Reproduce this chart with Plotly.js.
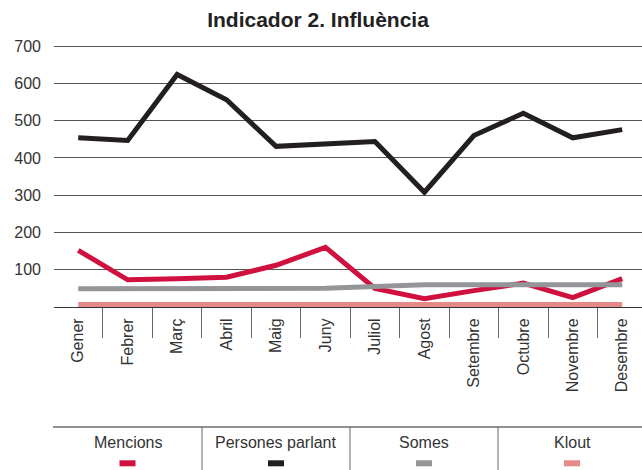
<!DOCTYPE html>
<html>
<head>
<meta charset="utf-8">
<script src="https://cdn.plot.ly/plotly-3.0.1.min.js"></script>
<style>html,body{margin:0;padding:0;background:#fff;}#chart{width:642px;height:470px;}</style>
</head>
<body>
<div id="chart"></div>
<script>
const months = ['Gener','Febrer','Març','Abril','Maig','Juny','Juliol','Agost','Setembre','Octubre','Novembre','Desembre'];
const mencions = [152, 73, 76, 80, 112, 160, 50, 22, 44, 64, 25, 76];
const persones = [454, 447, 624, 556, 431, 438, 444, 308, 460, 520, 454, 476];
const somes = [49, 49, 50, 50, 50, 50, 55, 60, 60, 60, 60, 60];
const klout = [7, 7, 7, 7, 7, 7, 7, 7, 7, 7, 7, 7];
const seriesNames = ['Mencions', 'Persones parlant', 'Somes', 'Klout'];
const seriesData = [mencions, persones, somes, klout];
const seriesColors = ['#d0103f', '#231f20', '#939598', '#e68a89'];
const yTicks = [100, 200, 300, 400, 500, 600, 700];

const W = 642, H = 470;
const M = {l: 54, r: 0, t: 45, b: 163};
const FONT = 'Liberation Sans, Arial, sans-serif';
// figure pixel -> paper coords
const pw = W - M.l - M.r, ph = H - M.t - M.b;
const px = x => (x - M.l) / pw;
const py = y => (H - M.b - y) / ph;

const traces = seriesNames.map((n, i) => ({
  type: 'scatter', mode: 'lines', name: n,
  x: months, y: seriesData[i],
  line: {color: seriesColors[i], width: 5},
  hoverinfo: 'skip', showlegend: false
}));
// carrier trace for the boundary-tick axis
traces.push({type: 'scatter', mode: 'lines', x: months, y: months.map(() => null),
  xaxis: 'x2', yaxis: 'y', hoverinfo: 'skip', showlegend: false, line: {width: 0}});

const legendCenters = [127.5, 276, 424, 572];
const annotations = seriesNames.map((n, i) => ({
  xref: 'paper', yref: 'paper', x: px(legendCenters[i]), y: py(442.5),
  xanchor: 'center', yanchor: 'middle', showarrow: false, text: n,
  font: {family: FONT, size: 16, color: '#333'}
}));
const shapes = [
  {type: 'line', xref: 'paper', yref: 'paper', x0: px(53), x1: px(642), y0: py(427), y1: py(427),
   line: {color: '#222', width: 1}}
];
[202, 350, 498].forEach(sx => shapes.push({type: 'line', xref: 'paper', yref: 'paper',
  x0: px(sx), x1: px(sx), y0: py(427), y1: py(472), line: {color: '#666', width: 1}}));
seriesColors.forEach((c, i) => shapes.push({type: 'rect', xref: 'paper', yref: 'paper',
  x0: px(legendCenters[i] - 8), x1: px(legendCenters[i] + 8), y0: py(466.3), y1: py(460.3),
  fillcolor: c, line: {width: 0}}));

const xr = [-0.49, 11.4];
const layout = {
  width: W, height: H,
  margin: M,
  paper_bgcolor: '#fff', plot_bgcolor: '#fff',
  font: {family: FONT, size: 16, color: '#333'},
  title: {text: 'Indicador 2. Influència', x: 318 / W, xanchor: 'center', xref: 'container',
    y: 1 - 20 / H, yanchor: 'middle', yref: 'container',
    font: {family: FONT, size: 21, color: '#222', weight: 'bold'}},
  xaxis: {type: 'category', categoryorder: 'array', categoryarray: months, range: xr,
    tickangle: -90, ticks: '', showgrid: false, showline: true, linecolor: '#333', linewidth: 1,
    tickfont: {family: FONT, size: 16, color: '#333'}, ticklabelstandoff: 4, fixedrange: true},
  xaxis2: {type: 'category', categoryorder: 'array', categoryarray: months, range: xr,
    overlaying: 'x', anchor: 'y', side: 'bottom', ticks: 'outside', tickson: 'boundaries',
    ticklen: 30, tickcolor: '#666', tickwidth: 1, showticklabels: false, showgrid: false,
    showline: false, zeroline: false},
  yaxis: {range: [0, 703], tickvals: yTicks, ticktext: yTicks.map(String), showgrid: true,
    gridcolor: '#555', gridwidth: 1, zeroline: false, showline: false, ticks: '',
    ticklabelstandoff: 12, tickfont: {family: FONT, size: 16, color: '#333'}, fixedrange: true},
  showlegend: false,
  annotations: annotations,
  shapes: shapes
};
Plotly.newPlot('chart', traces, layout, {displayModeBar: false, staticPlot: true});
</script>
</body>
</html>
